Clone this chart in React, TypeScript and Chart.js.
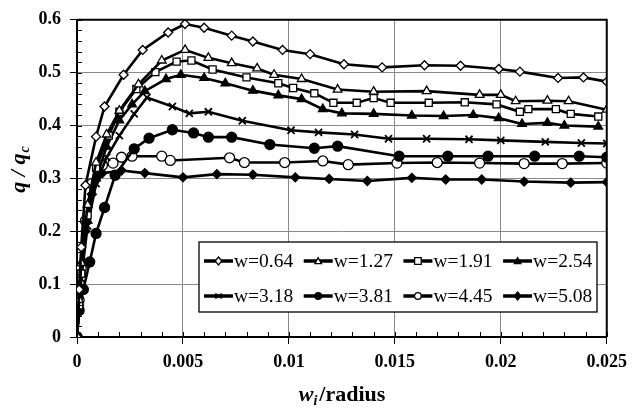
import React, { useEffect, useRef } from "react";
import { Chart, registerables } from "chart.js";

Chart.register(...registerables);

const FONT = "'Liberation Serif', 'Times New Roman', serif";

// x-axis ticks and y-axis ticks
const X_MIN = 0;
const X_MAX = 0.025;
const X_STEP = 0.005;
const X_MINOR = 0.001;
const Y_MIN = 0;
const Y_MAX = 0.6;
const Y_STEP = 0.1;
const Y_MINOR = 0.02;

const LABELS = ["w=0.64", "w=1.27", "w=1.91", "w=2.54", "w=3.18", "w=3.81", "w=4.45", "w=5.08"];

const X064 = [0, 0.0001, 0.0002, 0.0004, 0.0009, 0.0013, 0.0022, 0.0031, 0.0043, 0.0051, 0.006, 0.0073, 0.0083, 0.0097, 0.011, 0.0126, 0.0144, 0.0164, 0.0181, 0.0199, 0.0209, 0.0227, 0.0239, 0.025];
const Y064 = [0, 0.09, 0.17, 0.287, 0.379, 0.436, 0.496, 0.543, 0.576, 0.592, 0.585, 0.57, 0.559, 0.543, 0.535, 0.516, 0.51, 0.514, 0.513, 0.507, 0.502, 0.49, 0.491, 0.483];

const X127 = [0, 0.0001, 0.0002, 0.0005, 0.0009, 0.0014, 0.002, 0.0029, 0.004, 0.0051, 0.0062, 0.0073, 0.0085, 0.0093, 0.0106, 0.0123, 0.014, 0.0165, 0.019, 0.02, 0.0207, 0.0222, 0.0232, 0.025];
const Y127 = [0, 0.07, 0.14, 0.25, 0.33, 0.383, 0.428, 0.478, 0.523, 0.543, 0.528, 0.518, 0.508, 0.496, 0.488, 0.468, 0.464, 0.465, 0.458, 0.458, 0.446, 0.447, 0.446, 0.43];

const X191 = [0, 0.0001, 0.0002, 0.0005, 0.0009, 0.0015, 0.002, 0.0028, 0.0037, 0.0047, 0.0054, 0.0064, 0.008, 0.0095, 0.0102, 0.0112, 0.0121, 0.0132, 0.014, 0.0148, 0.0166, 0.0183, 0.0198, 0.0209, 0.0213, 0.0226, 0.0233, 0.0246];
const Y191 = [0, 0.06, 0.12, 0.23, 0.32, 0.381, 0.426, 0.469, 0.501, 0.521, 0.523, 0.506, 0.491, 0.48, 0.471, 0.461, 0.443, 0.443, 0.452, 0.443, 0.443, 0.444, 0.44, 0.426, 0.431, 0.431, 0.422, 0.417];

const X254 = [0, 0.0001, 0.0002, 0.0005, 0.0009, 0.0014, 0.002, 0.0026, 0.0032, 0.0042, 0.0049, 0.006, 0.007, 0.0083, 0.0095, 0.0106, 0.0116, 0.0125, 0.014, 0.0158, 0.0173, 0.0187, 0.0199, 0.021, 0.0222, 0.023, 0.0246];
const Y254 = [0, 0.06, 0.12, 0.22, 0.3, 0.36, 0.41, 0.44, 0.465, 0.488, 0.496, 0.49, 0.48, 0.466, 0.457, 0.45, 0.431, 0.423, 0.422, 0.419, 0.418, 0.42, 0.414, 0.403, 0.405, 0.4, 0.398];

const X318 = [0, 0.0001, 0.0002, 0.0005, 0.0009, 0.0014, 0.002, 0.0027, 0.0033, 0.0045, 0.0053, 0.0062, 0.0078, 0.0101, 0.0114, 0.0131, 0.0147, 0.0165, 0.0185, 0.02, 0.0221, 0.0238, 0.025];
const Y318 = [0, 0.06, 0.11, 0.21, 0.29, 0.34, 0.381, 0.422, 0.453, 0.436, 0.423, 0.426, 0.409, 0.391, 0.387, 0.383, 0.375, 0.375, 0.374, 0.372, 0.369, 0.367, 0.366];

const X381 = [0, 0.0001, 0.0003, 0.0006, 0.0009, 0.0013, 0.0018, 0.0027, 0.0034, 0.0045, 0.0055, 0.0062, 0.0073, 0.0091, 0.0112, 0.0123, 0.0152, 0.0175, 0.0194, 0.0216, 0.0237, 0.025];
const Y381 = [0, 0.05, 0.09, 0.142, 0.196, 0.245, 0.306, 0.356, 0.376, 0.392, 0.386, 0.378, 0.378, 0.364, 0.357, 0.361, 0.342, 0.342, 0.342, 0.342, 0.342, 0.34];

const X445 = [0, 0.0001, 0.0002, 0.0004, 0.0007, 0.0012, 0.0017, 0.0021, 0.0026, 0.004, 0.0044, 0.0072, 0.0079, 0.0098, 0.0116, 0.0128, 0.0151, 0.017, 0.019, 0.0211, 0.0229, 0.025];
const Y445 = [0, 0.07, 0.13, 0.22, 0.29, 0.325, 0.329, 0.34, 0.342, 0.342, 0.334, 0.339, 0.33, 0.33, 0.333, 0.326, 0.329, 0.33, 0.329, 0.328, 0.328, 0.329];

const X508 = [0, 0.0001, 0.0002, 0.0004, 0.0007, 0.0012, 0.0021, 0.0032, 0.005, 0.0066, 0.0083, 0.0103, 0.0119, 0.0137, 0.0158, 0.0174, 0.0191, 0.0211, 0.0233, 0.025];
const Y508 = [0, 0.06, 0.12, 0.2, 0.27, 0.31, 0.315, 0.31, 0.302, 0.308, 0.307, 0.302, 0.299, 0.295, 0.301, 0.298, 0.298, 0.294, 0.292, 0.293];

type Style = { shape: string; filled: boolean; r: number };
const STYLES: Style[] = [
  { shape: "rectRot", filled: false, r: 4.5 },
  { shape: "triangle", filled: false, r: 5 },
  { shape: "rect", filled: false, r: 5 },
  { shape: "triangle", filled: true, r: 5 },
  { shape: "crossRot", filled: false, r: 5 },
  { shape: "circle", filled: true, r: 5 },
  { shape: "circle", filled: false, r: 5 },
  { shape: "rectRot", filled: true, r: 4.5 },
];

const SERIES_X = [X064, X127, X191, X254, X318, X381, X445, X508];
const SERIES_Y = [Y064, Y127, Y191, Y254, Y318, Y381, Y445, Y508];

function drawMarker(ctx: CanvasRenderingContext2D, shape: string, filled: boolean, cx: number, cy: number, r: number) {
  ctx.save();
  ctx.beginPath();
  if (shape === "circle") {
    ctx.arc(cx, cy, r, 0, Math.PI * 2);
  } else if (shape === "rect") {
    ctx.rect(cx - r, cy - r, 2 * r, 2 * r);
  } else if (shape === "rectRot") {
    ctx.moveTo(cx, cy - r * 1.2);
    ctx.lineTo(cx + r, cy);
    ctx.lineTo(cx, cy + r * 1.2);
    ctx.lineTo(cx - r, cy);
    ctx.closePath();
  } else if (shape === "triangle") {
    ctx.moveTo(cx, cy - r);
    ctx.lineTo(cx + r, cy + r * 0.8);
    ctx.lineTo(cx - r, cy + r * 0.8);
    ctx.closePath();
  } else if (shape === "crossRot") {
    ctx.moveTo(cx - r, cy - r * 0.7);
    ctx.lineTo(cx + r, cy + r * 0.7);
    ctx.moveTo(cx + r, cy - r * 0.7);
    ctx.lineTo(cx - r, cy + r * 0.7);
    ctx.lineWidth = 1.8;
    ctx.strokeStyle = "#000";
    ctx.stroke();
    ctx.restore();
    return;
  }
  ctx.fillStyle = filled ? "#000" : "#fff";
  ctx.fill();
  ctx.lineWidth = 1.3;
  ctx.strokeStyle = "#000";
  ctx.stroke();
  ctx.restore();
}

const decor = {
  id: "decor",
  afterDatasetsDraw(chart: any) {
    const ctx: CanvasRenderingContext2D = chart.ctx;
    const { left, right, top, bottom } = chart.chartArea;
    const xs = chart.scales.x;
    const ys = chart.scales.y;
    ctx.save();
    // frame
    ctx.strokeStyle = "#000";
    ctx.lineWidth = 2;
    ctx.beginPath();
    ctx.moveTo(left, top);
    ctx.lineTo(right, top);
    ctx.lineTo(right, bottom);
    ctx.stroke();
    // minor ticks (inward)
    ctx.lineWidth = 1;
    ctx.beginPath();
    for (let i = 0; i <= Math.round((X_MAX - X_MIN) / X_MINOR); i++) {
      const px = Math.round(xs.getPixelForValue(X_MIN + i * X_MINOR)) + 0.5;
      ctx.moveTo(px, bottom);
      ctx.lineTo(px, bottom - 5);
    }
    for (let i = 0; i <= Math.round((Y_MAX - Y_MIN) / Y_MINOR); i++) {
      const py = Math.round(ys.getPixelForValue(Y_MIN + i * Y_MINOR)) + 0.5;
      ctx.moveTo(left, py);
      ctx.lineTo(left + 5, py);
    }
    ctx.stroke();

    // legend box
    const lx = 199, ly = 242, lw = 398, lh = 70;
    ctx.fillStyle = "#fff";
    ctx.fillRect(lx, ly, lw, lh);
    ctx.lineWidth = 1.3;
    ctx.strokeStyle = "#000";
    ctx.strokeRect(lx, ly, lw, lh);
    ctx.font = `19.5px ${FONT}`;
    ctx.fillStyle = "#000";
    ctx.textBaseline = "middle";
    ctx.textAlign = "left";
    LABELS.forEach((lab, i) => {
      const col = i % 4;
      const row = Math.floor(i / 4);
      const x0 = 204 + col * 99.7;
      const cy = 261 + row * 35;
      ctx.beginPath();
      ctx.lineWidth = 3.5;
      ctx.moveTo(x0, cy);
      ctx.lineTo(x0 + 29, cy);
      ctx.stroke();
      const st = STYLES[i];
      drawMarker(ctx, st.shape, st.filled, x0 + 14.5, cy, 3.3);
      ctx.fillStyle = "#000";
      ctx.fillText(lab, x0 + 30, cy + 1);
    });

    // y title
    ctx.save();
    ctx.translate(19, 170);
    ctx.rotate(-Math.PI / 2);
    ctx.font = `bold italic 22px ${FONT}`;
    const t1 = "q / q";
    const w1 = ctx.measureText(t1).width;
    ctx.font = `bold italic 14px ${FONT}`;
    const w2 = ctx.measureText("c").width;
    const sx = -(w1 + w2) / 2;
    ctx.textBaseline = "alphabetic";
    ctx.font = `bold italic 22px ${FONT}`;
    ctx.fillText(t1, sx, 6);
    ctx.font = `bold italic 14px ${FONT}`;
    ctx.fillText("c", sx + w1 + 1, 10);
    ctx.restore();

    // x title
    ctx.textBaseline = "alphabetic";
    ctx.font = `bold italic 22px ${FONT}`;
    const a = ctx.measureText("w").width;
    ctx.font = `bold italic 14px ${FONT}`;
    const b = ctx.measureText("i").width + 2;
    ctx.font = `bold 22px ${FONT}`;
    const c = ctx.measureText("/radius").width;
    let x = 342 - (a + b + c) / 2;
    const base = 401;
    ctx.font = `bold italic 22px ${FONT}`;
    ctx.fillText("w", x, base);
    x += a;
    ctx.font = `bold italic 14px ${FONT}`;
    ctx.fillText("i", x, base + 4);
    x += b;
    ctx.font = `bold 22px ${FONT}`;
    ctx.fillText("/radius", x, base);
    ctx.restore();
  },
};

export default function App() {
  const ref = useRef<HTMLCanvasElement | null>(null);
  useEffect(() => {
    if (!ref.current) return;
    const datasets = SERIES_X.map((xsArr, i) => {
      const st = STYLES[i];
      return {
        label: LABELS[i],
        data: xsArr.map((xv, j) => ({ x: xv, y: SERIES_Y[i][j] })),
        showLine: true,
        borderColor: "#000",
        borderWidth: 2.6,
        pointStyle: st.shape,
        pointRadius: st.r,
        pointBorderWidth: st.shape === "crossRot" ? 1.8 : 1.3,
        pointBorderColor: "#000",
        pointBackgroundColor: st.filled ? "#000" : "#fff",
        tension: 0,
      };
    });
    const chart = new Chart(ref.current, {
      type: "scatter",
      data: { datasets },
      options: {
        animation: false,
        responsive: false,
        maintainAspectRatio: false,
        layout: { padding: { top: 19, right: 27, left: 0, bottom: 0 } },
        plugins: { legend: { display: false }, tooltip: { enabled: false } },
        scales: {
          x: {
            type: "linear",
            min: X_MIN,
            max: X_MAX,
            ticks: {
              stepSize: X_STEP,
              color: "#000",
              padding: 8,
              maxRotation: 0,
              font: { family: FONT, size: 18, weight: "bold" },
              callback: (v: any) => (Number(v) === 0 ? "0" : String(+Number(v).toFixed(3))),
            },
            grid: { color: "#8a8a8a", tickColor: "#000", tickLength: 7, lineWidth: 1 },
            border: { color: "#000", width: 2 },
            afterFit: (s: any) => {
              s.height = 71;
            },
          },
          y: {
            type: "linear",
            min: Y_MIN,
            max: Y_MAX,
            ticks: {
              stepSize: Y_STEP,
              color: "#000",
              padding: 9,
              font: { family: FONT, size: 18, weight: "bold" },
              callback: (v: any) => String(+Number(v).toFixed(1)),
            },
            grid: { color: "#8a8a8a", tickColor: "#000", tickLength: 7, lineWidth: 1 },
            border: { color: "#000", width: 2 },
            afterFit: (s: any) => {
              s.width = 77;
            },
          },
        },
      },
      plugins: [decor],
    } as any);
    return () => chart.destroy();
  }, []);
  return (
    <div style={{ position: "fixed", left: 0, top: 0, width: 635, height: 408, background: "#fff" }}>
      <canvas ref={ref} width={635} height={408} />
    </div>
  );
}
